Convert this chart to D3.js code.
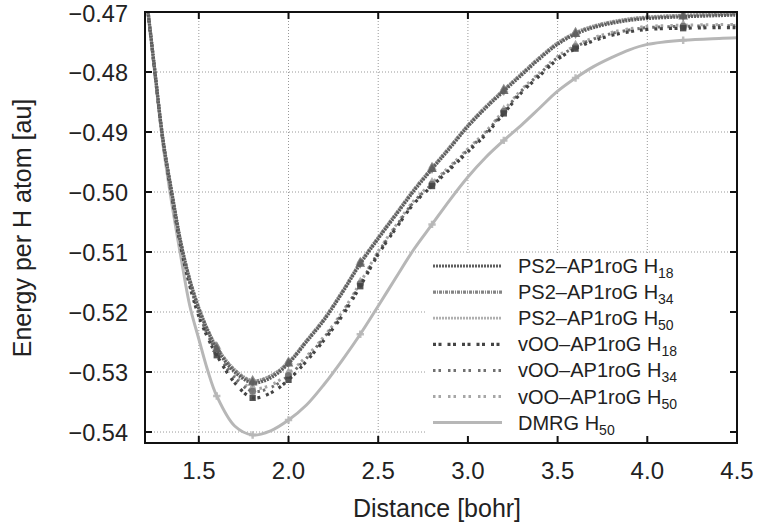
<!DOCTYPE html>
<html><head><meta charset="utf-8">
<script src="https://cdn.jsdelivr.net/npm/d3@7"></script>
<style>body{margin:0;background:#fff}svg{display:block}text{font-family:"Liberation Sans",Arial,sans-serif;fill:#222}</style>
</head><body><svg id="c" width="757" height="524"></svg>
<script>
const distances = [1.2,1.25,1.3,1.35,1.4,1.45,1.5,1.55,1.6,1.7,1.8,1.9,2.0,2.1,2.2,2.3,2.4,2.5,2.6,2.7,2.8,2.9,3.0,3.1,3.2,3.3,3.4,3.5,3.6,3.7,3.8,3.9,4.0,4.2,4.4,4.5];
const ps2H18 = [-0.4655,-0.4785,-0.4912,-0.5002,-0.5085,-0.5148,-0.5195,-0.5232,-0.5262,-0.5300,-0.5318,-0.5310,-0.5286,-0.5250,-0.5213,-0.5168,-0.5120,-0.5078,-0.5038,-0.4998,-0.4962,-0.4927,-0.4891,-0.4860,-0.4832,-0.4805,-0.4778,-0.4754,-0.4737,-0.4726,-0.4719,-0.4714,-0.4711,-0.4708,-0.4706,-0.4705];
const ps2H34 = [-0.4654,-0.4784,-0.4911,-0.5001,-0.5084,-0.5146,-0.5193,-0.5230,-0.5259,-0.5297,-0.5315,-0.5307,-0.5284,-0.5248,-0.5211,-0.5166,-0.5118,-0.5076,-0.5036,-0.4996,-0.4960,-0.4925,-0.4889,-0.4858,-0.4830,-0.4803,-0.4776,-0.4752,-0.4735,-0.4724,-0.4717,-0.4712,-0.4709,-0.4706,-0.4704,-0.4703];
const ps2H50 = [-0.4654,-0.4783,-0.4910,-0.5000,-0.5083,-0.5145,-0.5192,-0.5229,-0.5258,-0.5296,-0.5314,-0.5306,-0.5283,-0.5247,-0.5210,-0.5165,-0.5117,-0.5075,-0.5035,-0.4995,-0.4959,-0.4924,-0.4888,-0.4857,-0.4829,-0.4802,-0.4775,-0.4751,-0.4734,-0.4723,-0.4716,-0.4711,-0.4708,-0.4705,-0.4703,-0.4702];
const vooH18 = [-0.4655,-0.4788,-0.4915,-0.5008,-0.5092,-0.5157,-0.5207,-0.5243,-0.5272,-0.5318,-0.5343,-0.5335,-0.5313,-0.5282,-0.5246,-0.5206,-0.5157,-0.5104,-0.5060,-0.5019,-0.4990,-0.4962,-0.4933,-0.4904,-0.4869,-0.4834,-0.4806,-0.4779,-0.4761,-0.4748,-0.4739,-0.4733,-0.4729,-0.4727,-0.4726,-0.4726];
const vooH34 = [-0.4655,-0.4787,-0.4914,-0.5006,-0.5089,-0.5153,-0.5202,-0.5238,-0.5267,-0.5310,-0.5332,-0.5326,-0.5306,-0.5277,-0.5242,-0.5202,-0.5153,-0.5101,-0.5057,-0.5016,-0.4987,-0.4959,-0.4930,-0.4901,-0.4866,-0.4831,-0.4803,-0.4776,-0.4758,-0.4745,-0.4736,-0.4730,-0.4726,-0.4724,-0.4723,-0.4723];
const vooH50 = [-0.4654,-0.4786,-0.4913,-0.5005,-0.5088,-0.5151,-0.5200,-0.5236,-0.5264,-0.5306,-0.5327,-0.5322,-0.5302,-0.5274,-0.5240,-0.5200,-0.5151,-0.5099,-0.5055,-0.5014,-0.4985,-0.4957,-0.4928,-0.4899,-0.4864,-0.4829,-0.4801,-0.4774,-0.4756,-0.4743,-0.4734,-0.4728,-0.4724,-0.4722,-0.4721,-0.4721];
const dmrgH50 = [-0.4660,-0.4790,-0.4920,-0.5020,-0.5108,-0.5190,-0.5245,-0.5298,-0.5340,-0.5390,-0.5405,-0.5398,-0.5380,-0.5355,-0.5320,-0.5280,-0.5237,-0.5190,-0.5142,-0.5095,-0.5054,-0.5013,-0.4975,-0.4942,-0.4914,-0.4888,-0.4860,-0.4832,-0.4810,-0.4791,-0.4776,-0.4763,-0.4754,-0.4747,-0.4744,-0.4743];
const markerDistances = [1.6,1.8,2.0,2.4,2.8,3.2,3.6,4.2];
const xTicks = [1.5,2.0,2.5,3.0,3.5,4.0,4.5];
const yTicks = [-0.47,-0.48,-0.49,-0.50,-0.51,-0.52,-0.53,-0.54];
const seriesNames = ["PS2\u2013AP1roG H|18","PS2\u2013AP1roG H|34","PS2\u2013AP1roG H|50","vOO\u2013AP1roG H|18","vOO\u2013AP1roG H|34","vOO\u2013AP1roG H|50","DMRG H|50"];
const seriesValues = [ps2H18,ps2H34,ps2H50,vooH18,vooH34,vooH50,dmrgH50];
const styles = [
 {c:"#5e5e5e",w:3.2,d:"2,1",m:"triangle"},
 {c:"#858585",w:3.2,d:"3,1,1,1",m:"diamond"},
 {c:"#b0b0b0",w:2.8,d:"2,1",m:"triangle"},
 {c:"#444",w:3.2,d:"3,2.5,3,6",m:"square"},
 {c:"#707070",w:3,d:"2.5,3,2.5,7",m:"circle"},
 {c:"#a6a6a6",w:3,d:"2.5,3,2.5,7",m:"diamond"},
 {c:"#b7b7b7",w:3,d:null,m:"cross"}
];
const L=145,R=737,T=12,B=443;
const x=d3.scaleLinear().domain([1.2,4.5]).range([L,R]);
const y=d3.scaleLinear().domain([-0.47,-0.54183]).range([T,B]);
const svg=d3.select("#c");
svg.append("defs").append("clipPath").attr("id","clip").append("rect").attr("x",L).attr("y",T).attr("width",R-L).attr("height",B-T);
const g=svg.append("g");
g.selectAll(".gx").data(xTicks.filter(t=>t<4.5)).join("line").attr("x1",d=>x(d)).attr("x2",d=>x(d)).attr("y1",T).attr("y2",B).attr("stroke","#999").attr("stroke-width",1).attr("stroke-dasharray","1,2");
g.selectAll(".gy").data(yTicks.filter(t=>t<-0.47)).join("line").attr("y1",d=>y(d)).attr("y2",d=>y(d)).attr("x1",L).attr("x2",R).attr("stroke","#999").attr("stroke-width",1).attr("stroke-dasharray","1,2");
const line=d3.line().x((d,i)=>x(distances[i])).y(d=>y(d)).curve(d3.curveCatmullRom);
const cg=svg.append("g").attr("clip-path","url(#clip)");
const order=[6,5,4,3,2,1,0];
const symMap={triangle:d3.symbolTriangle,diamond:d3.symbolDiamond,square:d3.symbolSquare,circle:d3.symbolCircle,cross:d3.symbolCross};
order.forEach(k=>{
 const s=styles[k];
 cg.append("path").datum(seriesValues[k]).attr("d",line).attr("fill","none").attr("stroke",s.c).attr("stroke-width",s.w).attr("stroke-dasharray",s.d);
 const pts=markerDistances.map(m=>distances.indexOf(m)).filter(i=>i>=0);
 cg.selectAll(null).data(pts).join("path").attr("transform",i=>`translate(${x(distances[i])},${y(seriesValues[k][i])})`)
   .attr("d",d3.symbol().type(symMap[s.m]).size(k===6?30:40)).attr("fill",s.c).attr("opacity",0.9);
});
const lg=svg.append("g");
lg.append("rect").attr("x",425).attr("y",254).attr("width",305).attr("height",183).attr("fill","#fff");
seriesNames.forEach((n,i)=>{
 const yy=266+i*26.1;const s=styles[i];
 lg.append("line").attr("x1",433).attr("x2",502).attr("y1",yy).attr("y2",yy).attr("stroke",s.c).attr("stroke-width",s.w).attr("stroke-dasharray",s.d);
 const [main,sub]=n.split("|");
 const t=lg.append("text").attr("x",518).attr("y",yy+7).attr("font-size",20);
 t.append("tspan").text(main);
 t.append("tspan").attr("dy",5).attr("font-size",14).text(sub);
});
const ax=svg.append("g");
ax.append("rect").attr("x",L).attr("y",T).attr("width",R-L).attr("height",B-T).attr("fill","none").attr("stroke","#111").attr("stroke-width",2);
xTicks.filter(t=>t<4.5).forEach(t=>{
 ax.append("line").attr("x1",x(t)).attr("x2",x(t)).attr("y1",B).attr("y2",B-7).attr("stroke","#111").attr("stroke-width",2);
 ax.append("line").attr("x1",x(t)).attr("x2",x(t)).attr("y1",T).attr("y2",T+7).attr("stroke","#111").attr("stroke-width",2);
});
yTicks.forEach(t=>{
 ax.append("line").attr("x1",L).attr("x2",L+7).attr("y1",y(t)).attr("y2",y(t)).attr("stroke","#111").attr("stroke-width",2);
 ax.append("line").attr("x1",R).attr("x2",R-7).attr("y1",y(t)).attr("y2",y(t)).attr("stroke","#111").attr("stroke-width",2);
});
const fx=d3.format(".1f"), fy=d3.format(".2f");
ax.selectAll(".xl").data(xTicks).join("text").attr("x",d=>x(d)).attr("y",479).attr("text-anchor","middle").attr("font-size",24).text(d=>fx(d));
ax.selectAll(".yl").data(yTicks).join("text").attr("x",128).attr("y",d=>Math.max(y(d)+8.5,22)).attr("text-anchor","end").attr("font-size",23.5).text(d=>fy(d));
svg.append("text").attr("x",437).attr("y",517).attr("text-anchor","middle").attr("font-size",25).text("Distance [bohr]");
svg.append("text").attr("transform","translate(31,228) rotate(-90)").attr("text-anchor","middle").attr("font-size",25).text("Energy per H atom [au]");
</script></body></html>
